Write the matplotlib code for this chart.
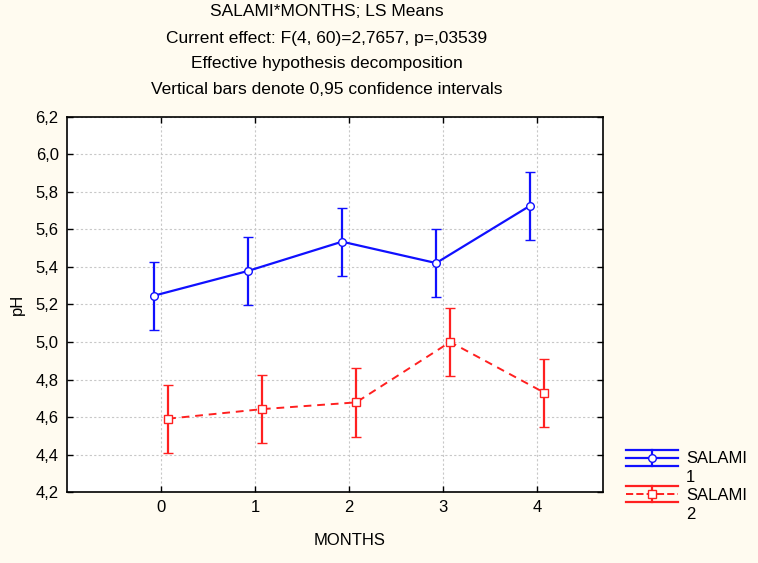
import numpy as np
import matplotlib.pyplot as plt
from matplotlib.lines import Line2D
from matplotlib.legend_handler import HandlerBase
from matplotlib.ticker import FuncFormatter, MultipleLocator

plt.rcParams['font.family'] = ['Liberation Sans', 'DejaVu Sans']

months = [0, 1, 2, 3, 4]
salami1_mean = [5.247, 5.379, 5.535, 5.421, 5.727]
salami1_ci = [0.182, 0.182, 0.182, 0.182, 0.182]
salami2_mean = [4.591, 4.642, 4.678, 5.000, 4.730]
salami2_ci = [0.182, 0.182, 0.182, 0.182, 0.182]
series_names = ["SALAMI", "SALAMI"]
series_ids = ["1", "2"]


class HandlerCI(HandlerBase):
    # statistica-style legend key: two whiskers across the key, line + marker between
    def create_artists(self, legend, orig_handle, xdescent, ydescent, width, height,
                       fontsize, trans):
        line = orig_handle.lines[0]
        c = line.get_color()
        yc = height / 2 - ydescent
        dy = 5.8
        x0, x1 = -xdescent, width - xdescent
        xm = (x0 + x1) / 2
        arts = [
            Line2D([x0, x1], [yc + dy, yc + dy], color=c, lw=1.6),
            Line2D([x0, x1], [yc - dy, yc - dy], color=c, lw=1.6),
            Line2D([xm, xm], [yc - dy, yc + dy], color=c, lw=1.6),
            Line2D([x0, x1], [yc, yc], color=c, lw=line.get_linewidth(),
                   ls=line.get_linestyle()),
            Line2D([xm], [yc], marker=line.get_marker(), ms=line.get_markersize(),
                   mfc="white", mec=c, mew=1.0, ls="none"),
        ]
        for a in arts:
            a.set_transform(trans)
        return arts


bg = "#fffbf0"
fig = plt.figure(figsize=(7.58, 5.63), dpi=100, facecolor=bg)
ax = fig.add_axes([0.0884, 0.1261, 0.7071, 0.6661])
ax.set_facecolor("white")

x = np.array(months, dtype=float)
h1 = ax.errorbar(x - 0.075, salami1_mean, yerr=salami1_ci, color="#1010ff", lw=1.6,
                 marker="o", ms=5.5, mfc="white", mec="#1010ff", mew=1.0,
                 capsize=3.3, capthick=1.6, elinewidth=1.6, zorder=3)
h2 = ax.errorbar(x + 0.075, salami2_mean, yerr=salami2_ci, color="#ff2020", lw=1.4,
                 ls=(0, (4, 3)), marker="s", ms=5.5, mfc="white", mec="#ff2020", mew=1.0,
                 capsize=3.3, capthick=1.6, elinewidth=1.6, zorder=3)

ax.set_xlim(-1, 4.7)
ax.set_ylim(4.2, 6.2)
ax.set_xticks(months)
ax.yaxis.set_major_locator(MultipleLocator(0.2))
ax.yaxis.set_major_formatter(FuncFormatter(lambda v, p: f"{v:.1f}".replace(".", ",")))
ax.grid(True, color="#c8c8c8", ls=(0, (2, 2)), lw=0.8)
ax.tick_params(direction="in", length=4, width=1, labelsize=12, colors="black",
               top=True, right=True, pad=6)
for s in ax.spines.values():
    s.set_linewidth(1.2)

ax.set_xlabel("MONTHS", fontsize=12, labelpad=14)
ax.xaxis.set_label_coords(3 / 5.7, -0.11)
ax.set_ylabel("pH", fontsize=12, labelpad=8)

titles = ["SALAMI*MONTHS; LS Means",
          "Current effect: F(4, 60)=2,7657, p=,03539",
          "Effective hypothesis decomposition",
          "Vertical bars denote 0,95 confidence intervals"]
for i, t in enumerate(titles):
    fig.text(0.431, 1 - (12 + 26 * i) / 563, t, ha="center", va="center", fontsize=12.5)

leg = fig.legend(handles=[h1, h2], labels=series_names, loc="upper left",
                 bbox_to_anchor=(0.817, 0.21), frameon=False, fontsize=12,
                 handlelength=3.1, labelspacing=1.3, handletextpad=0.5, borderaxespad=0,
                 handler_map={type(h1): HandlerCI()})

# second line of each legend label sits under the first, like the original
fig.canvas.draw()
r = fig.canvas.get_renderer()
for t, sid in zip(leg.get_texts(), series_ids):
    bb = t.get_window_extent(r)
    fig.text(bb.x0 / fig.bbox.width, (bb.y0 - 19) / fig.bbox.height, sid,
             fontsize=12, ha="left", va="bottom")

fig.savefig("out.png", dpi=100, facecolor=bg)
